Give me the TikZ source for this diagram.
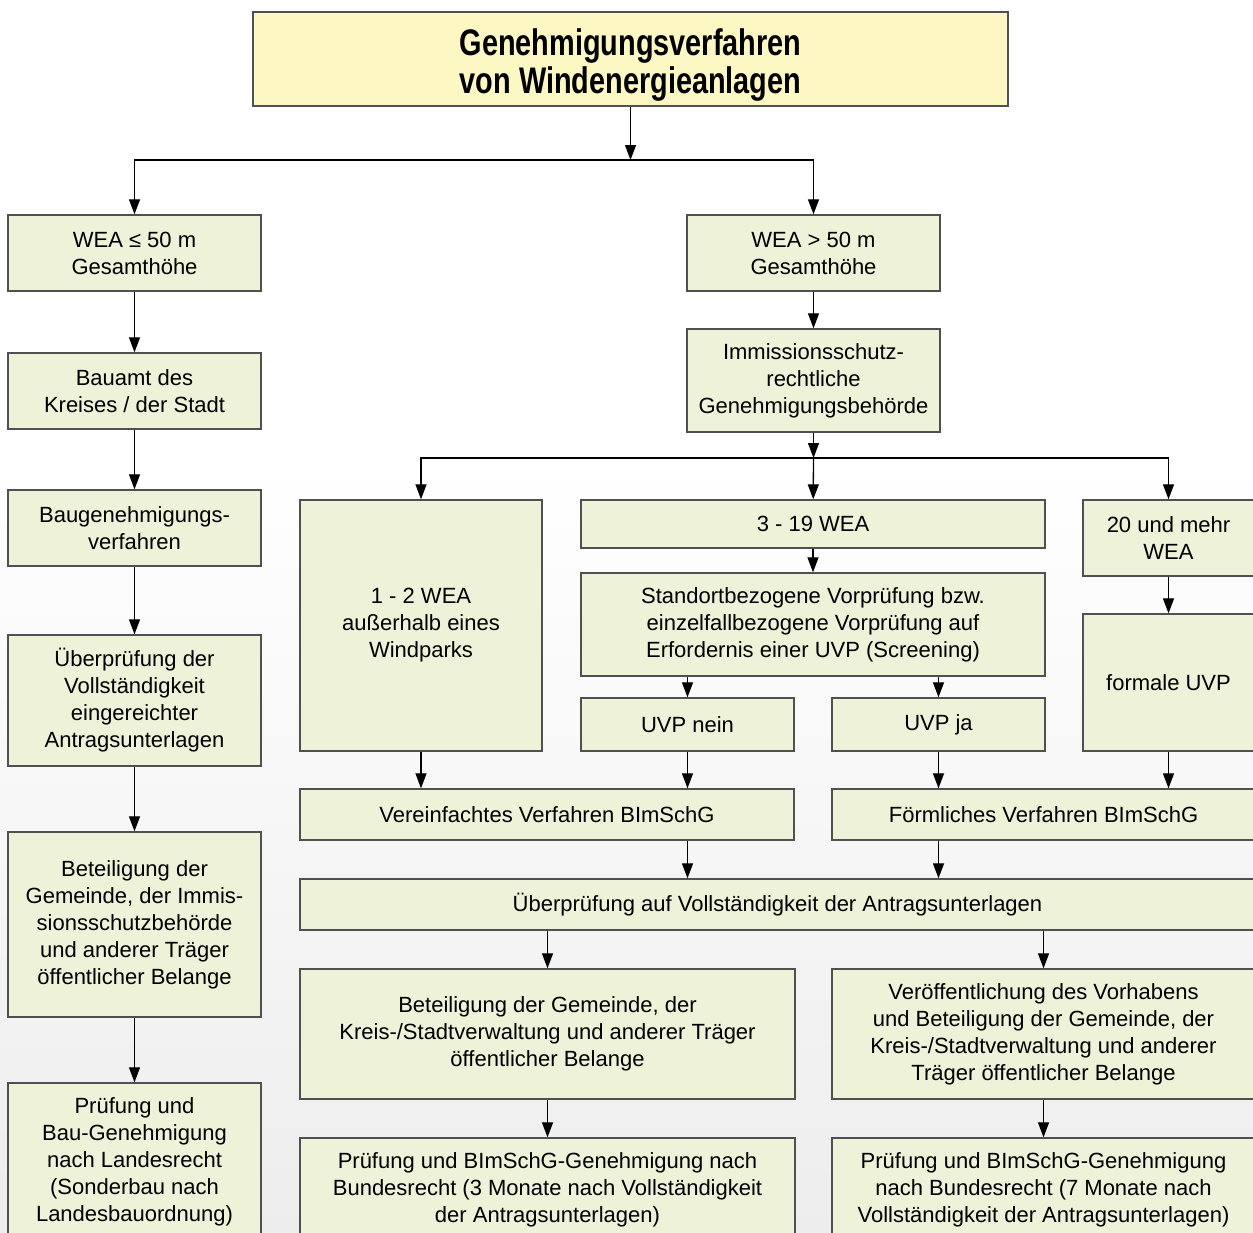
\documentclass[tikz,border=0pt]{standalone}
\usepackage{fontspec}
\setmainfont{Liberation Sans}
\newfontfamily\titlefont[FakeStretch=0.78]{Liberation Sans}
\usetikzlibrary{arrows.meta}
\definecolor{boxfill}{HTML}{EEF2D8}
\definecolor{titlefill}{HTML}{FDF7C4}
\definecolor{boxline}{HTML}{505050}
\begin{document}
\begin{tikzpicture}[x=1pt,y=-1pt,
	box/.style={draw=boxline,line width=1.4pt,fill=boxfill,inner sep=0pt,align=center,
		font=\fontsize{22}{27}\selectfont},
	arr/.style={line width=1.3pt,-{Triangle[length=15pt,width=11pt]}},
	lin/.style={line width=1.3pt}]
	\useasboundingbox (0,0) rectangle (1253,1232);
	\clip (0,0) rectangle (1253,1232);
	\fill[white] (0,0) rectangle (1253,460);
	\shade[top color=white,bottom color=black!7] (0,460) rectangle (1253,1232);
	\node[box,fill=titlefill,minimum width=755pt,minimum height=94pt,
		font=\titlefont\bfseries\fontsize{37}{38}\selectfont] (titel) at (630.5,59)
		{\rule{0pt}{39pt}Genehmigungsverfahren\\von Windenergieanlagen};
	\coordinate (s1) at (630.5,160);
	\node[box,minimum width=253pt,minimum height=76pt] (b1) at (134.5,253) {WEA ≤ 50 m\\Gesamthöhe};
	\node[box,minimum width=253pt,minimum height=76pt] (b2) at (134.5,391) {Bauamt des\\Kreises / der Stadt};
	\node[box,minimum width=253pt,minimum height=76pt] (b3) at (134.5,528) {Baugenehmigungs-\\verfahren};
	\node[box,minimum width=253pt,minimum height=131pt] (b4) at (134.5,700.5) {Überprüfung der\\Vollständigkeit\\eingereichter\\Antragsunterlagen};
	\node[box,minimum width=253pt,minimum height=185pt] (b5) at (134.5,924.5) {Beteiligung der\\Gemeinde, der Immis-\\sionsschutzbehörde\\und anderer Träger\\öffentlicher Belange};
	\node[box,minimum width=253pt,minimum height=158pt] (b6) at (134.5,1162) {Prüfung und\\Bau-Genehmigung\\nach Landesrecht\\(Sonderbau nach\\Landesbauordnung)};
	\node[box,minimum width=253pt,minimum height=76pt] (r1) at (813.5,253) {WEA > 50 m\\Gesamthöhe};
	\node[box,minimum width=253pt,minimum height=103pt] (r2) at (813.5,380.5) {Immissionsschutz-\\rechtliche\\Genehmigungsbehörde};
	\coordinate (s2) at (813.5,458);
	\node[box,minimum width=242pt,minimum height=251pt] (l1) at (421,625.5) {1 - 2 WEA\\außerhalb eines\\Windparks};
	\node[box,minimum width=464pt,minimum height=48pt] (m1) at (813,524) {3 - 19 WEA};
	\node[box,minimum width=464pt,minimum height=103pt] (m2) at (813,624.5) {Standortbezogene Vorprüfung bzw.\\einzelfallbezogene Vorprüfung auf\\Erfordernis einer UVP (Screening)};
	\node[box,minimum width=213pt,minimum height=53pt] (nein) at (687.5,724.5) {UVP nein};
	\node[box,minimum width=213pt,minimum height=53pt] (ja) at (938.5,724.5) {UVP ja};
	\node[box,minimum width=171pt,minimum height=76pt] (rr1) at (1168.5,538) {20 und mehr\\WEA};
	\node[box,minimum width=171pt,minimum height=137pt] (rr2) at (1168.5,682.5) {formale UVP};
	\node[box,minimum width=494pt,minimum height=51pt] (verf1) at (547,814.5) {Vereinfachtes Verfahren BImSchG};
	\node[box,minimum width=423pt,minimum height=51pt] (verf2) at (1043.5,814.5) {Förmliches Verfahren BImSchG};
	\node[box,minimum width=955pt,minimum height=51pt] (pruef) at (777.5,904.5) {Überprüfung auf Vollständigkeit der Antragsunterlagen};
	\node[box,minimum width=495pt,minimum height=130pt] (bet1) at (547.5,1034) {Beteiligung der Gemeinde, der\\Kreis-/Stadtverwaltung und anderer Träger\\öffentlicher Belange};
	\node[box,minimum width=423pt,minimum height=130pt] (bet2) at (1043.5,1034) {Veröffentlichung des Vorhabens\\und Beteiligung der Gemeinde, der\\Kreis-/Stadtverwaltung und anderer\\Träger öffentlicher Belange};
	\node[box,minimum width=495pt,minimum height=104pt] (gen1) at (547.5,1190) {Prüfung und BImSchG-Genehmigung nach\\Bundesrecht (3 Monate nach Vollständigkeit\\der Antragsunterlagen)};
	\node[box,minimum width=423pt,minimum height=104pt] (gen2) at (1043.5,1190) {Prüfung und BImSchG-Genehmigung\\nach Bundesrecht (7 Monate nach\\Vollständigkeit der Antragsunterlagen)};
	\draw[arr] (titel) -- (s1);
	\draw[arr] (s1) -| (b1);
	\draw[arr] (s1) -| (r1);
	\draw[arr] (b1) -- (b2);
	\draw[arr] (b2) -- (b3);
	\draw[arr] (b3) -- (b4);
	\draw[arr] (b4) -- (b5);
	\draw[arr] (b5) -- (b6);
	\draw[arr] (r1) -- (r2);
	\draw[arr] (r2) -- (s2);
	\draw[arr] (s2) -| (l1);
	\draw[arr] (s2) -- (m1);
	\draw[arr] (s2) -| (rr1);
	\draw[arr] (m1) -- (m2);
	\draw[arr] (m2.south -| nein) -- (nein);
	\draw[arr] (m2.south -| ja) -- (ja);
	\draw[arr] (rr1) -- (rr2);
	\draw[arr] (l1) -- (l1 |- verf1.north);
	\draw[arr] (nein) -- (nein |- verf1.north);
	\draw[arr] (ja) -- (ja |- verf2.north);
	\draw[arr] (rr2) -- (rr2 |- verf2.north);
	\draw[arr] (verf1.south -| nein) -- (nein |- pruef.north);
	\draw[arr] (verf2.south -| ja) -- (ja |- pruef.north);
	\draw[arr] (pruef.south -| bet1) -- (bet1);
	\draw[arr] (pruef.south -| bet2) -- (bet2);
	\draw[arr] (bet1) -- (gen1);
	\draw[arr] (bet2) -- (gen2);
\end{tikzpicture}
\end{document}
